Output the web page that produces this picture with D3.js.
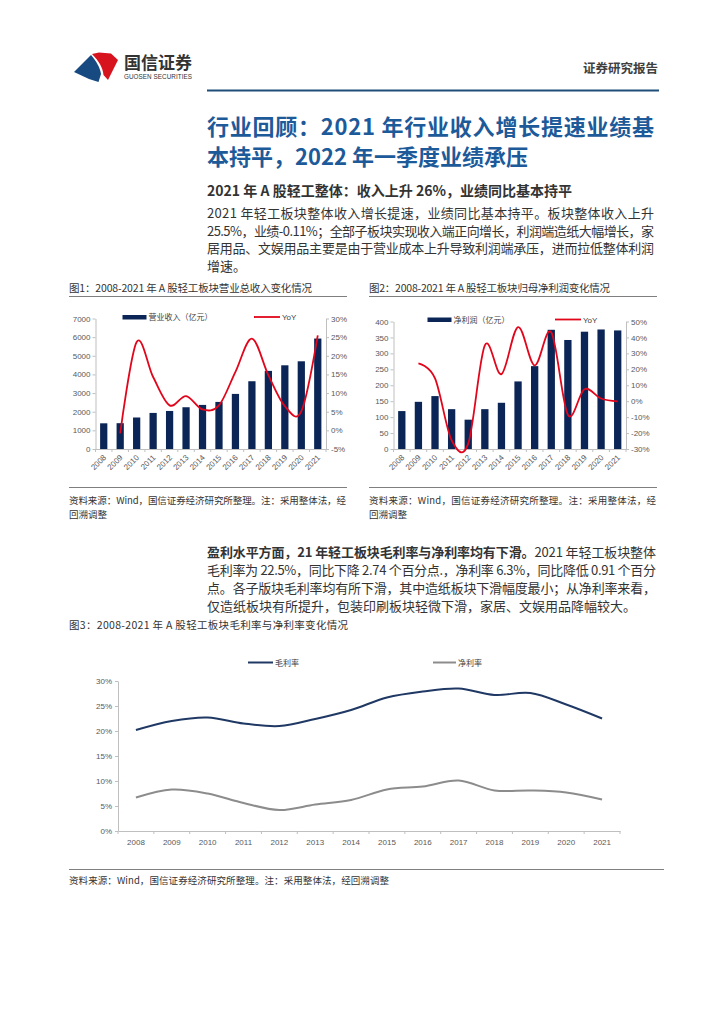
<!DOCTYPE html>
<html><head><meta charset="utf-8">
<script src="https://cdn.jsdelivr.net/npm/d3@7"></script>
<style>body{margin:0;background:#fff}svg{display:block}</style>
</head><body><svg id="c" width="724" height="1024"></svg>
<script>
// ---------------- data ----------------
const years = ["2008","2009","2010","2011","2012","2013","2014","2015","2016","2017","2018","2019","2020","2021"];
const revenue = [1378,1385,1690,1935,2040,2240,2365,2525,2955,3635,4190,4490,4705,5925];
const revenueYoY = [null,-0.8,23.7,14.3,6.7,9.2,5.6,6.7,15.7,24.6,14.8,6.5,5.1,25.5];
const profit = [119,148,166,125,92,125,145,212,260,374,342,368,375,372];
const profitYoY = [null,23.8,14.3,-24.5,-26.6,35.0,17.0,46.5,22.5,43.2,-8.5,7.5,1.7,-0.1];
const grossMargin = [20.2,22.0,22.7,21.5,21.0,22.4,24.2,26.7,27.9,28.5,27.2,27.6,25.3,22.5];
const netMargin = [6.7,8.3,7.5,5.6,4.2,5.3,6.2,8.3,8.9,10.1,8.1,8.1,7.7,6.3];
const revTicks = [0,1000,2000,3000,4000,5000,6000,7000];
const revYoYTicks = [-5,0,5,10,15,20,25,30];
const profTicks = [0,50,100,150,200,250,300,350,400];
const profYoYTicks = [-30,-20,-10,0,10,20,30,40,50];
const marginTicks = [0,5,10,15,20,25,30];

const CJK = "'Noto Sans CJK SC','Noto Sans',sans-serif";
const NUM = "'Liberation Sans','Noto Sans CJK SC',sans-serif";
const NAVY = "#0b2656", RED = "#e1061b";

const svg = d3.select("#c");
svg.append("rect").attr("width",724).attr("height",1024).attr("fill","#fff");

function txt(x,y,s,o={}){
  const t = svg.append("text").attr("x",x).attr("y",y)
    .attr("font-family",o.ff||CJK).attr("font-size",o.fs||12)
    .attr("font-weight",o.fw||"normal").attr("fill",o.fill||"#333")
    .attr("text-anchor",o.anchor||"start");
  if(o.len){t.attr("textLength",o.len).attr("lengthAdjust","spacing");}
  if(o.html){t.html(s);} else t.text(s);
  return t;
}

// ---------------- header ----------------
svg.append("path").attr("d","M74 72 L91 55 C96 61 100 67 101 74 L98.5 82 L89 79 Z").attr("fill","#164a80");
svg.append("path").attr("d","M92 54 L99 52.5 L111 53.5 L118 60 L108 80 L103.5 75 C103 68 99 61 92 54 Z").attr("fill","#d7141e");
txt(124,69,"国信证券",{fs:17,fw:"bold",fill:"#333",len:68});
txt(124,79,"GUOSEN SECURITIES",{fs:6.3,ff:NUM,fill:"#333",len:68});
txt(658,73,"证券研究报告",{fs:12.5,fw:"bold",fill:"#404040",anchor:"end"});
svg.append("line").attr("x1",207).attr("x2",659).attr("y1",90.5).attr("y2",90.5).attr("stroke","#1f4e79").attr("stroke-width",2);

// ---------------- title & paragraph ----------------
txt(207,135,"行业回顾：2021 年行业收入增长提速业绩基",{fs:22,fw:"bold",fill:"#1d5a99",len:447});
txt(207,165,"本持平，2022 年一季度业绩承压",{fs:22,fw:"bold",fill:"#1d5a99",len:321});
txt(207,196,"2021 年 A 股轻工整体：收入上升 26%，业绩同比基本持平",{fs:14,fw:"bold",fill:"#333",len:365});
const p1 = ["2021 年轻工板块整体收入增长提速，业绩同比基本持平。板块整体收入上升",
  "25.5%，业绩-0.11%；全部子板块实现收入端正向增长，利润端造纸大幅增长，家",
  "居用品、文娱用品主要是由于营业成本上升导致利润端承压，进而拉低整体利润",
  "增速。"];
const p1y=[218,235.5,253,270.5];
p1.forEach((s,i)=>txt(207,p1y[i],s,{fs:13,fill:"#333",len:i<3?447:null}));

// ---------------- figure titles / sources ----------------
function figFrame(x0,x1,title,tlen,src){
  txt(x0,292,title,{fs:10.5,fill:"#333",len:tlen});
  svg.append("line").attr("x1",x0).attr("x2",x1).attr("y1",296.5).attr("y2",296.5).attr("stroke","#7f7f7f").attr("stroke-width",1);
  svg.append("line").attr("x1",x0).attr("x2",x1).attr("y1",487.5).attr("y2",487.5).attr("stroke","#7f7f7f").attr("stroke-width",1);
  txt(x0,503.5,src[0],{fs:9.5,fill:"#333",len:x1-x0-1});
  txt(x0,517.5,src[1],{fs:9.5,fill:"#333"});
}
figFrame(69,347,"图1：2008-2021 年 A 股轻工板块营业总收入变化情况",243,["资料来源：Wind，国信证券经济研究所整理。注：采用整体法，经","回溯调整"]);
figFrame(369,657,"图2：2008-2021 年 A 股轻工板块归母净利润变化情况",241,["资料来源：Wind，国信证券经济研究所整理。注：采用整体法，经","回溯调整"]);

// ---------------- combo chart helper ----------------
function combo(cfg){
  const x = d3.scaleBand().domain(years).range([cfg.x0,cfg.x1]).paddingInner(0.56).paddingOuter(0.28);
  const yL = d3.scaleLinear().domain(cfg.ldom).range([449,cfg.top]);
  const yR = d3.scaleLinear().domain(cfg.rdom).range([449,cfg.top]);
  const g = svg.append("g");
  // bars
  g.selectAll(".bar").data(cfg.bars).enter().append("rect")
    .attr("x",(d,i)=>x(years[i])).attr("width",x.bandwidth())
    .attr("y",d=>yL(d)).attr("height",d=>449-yL(d)).attr("fill",NAVY);
  // axes
  const aL = g.append("g").attr("transform",`translate(${cfg.x0},0)`)
    .call(d3.axisLeft(yL).tickValues(cfg.lticks).tickFormat(d3.format("d")).tickSize(3).tickSizeOuter(0).tickPadding(2));
  const aR = g.append("g").attr("transform",`translate(${cfg.x1},0)`)
    .call(d3.axisRight(yR).tickValues(cfg.rticks).tickFormat(d=>d+"%").tickSize(3).tickSizeOuter(0).tickPadding(2));
  const aB = g.append("g").attr("transform","translate(0,449)")
    .call(d3.axisBottom(x).tickSize(0).tickFormat(""));
  // category boundary ticks
  const step = x.step();
  g.selectAll(".bt").data(d3.range(years.length+1)).enter().append("line")
    .attr("x1",i=>cfg.x0+i*step).attr("x2",i=>cfg.x0+i*step).attr("y1",449).attr("y2",452)
    .attr("stroke","#bfbfbf");
  [aL,aR,aB].forEach(a=>{
    a.selectAll("path,line").attr("stroke","#bfbfbf");
    a.selectAll("text").attr("font-family",NUM).attr("font-size",8).attr("fill","#595959");
  });
  // rotated x labels
  years.forEach(yr=>{
    const cx = x(yr)+x.bandwidth()/2;
    g.append("text").attr("transform",`translate(${cx+1},456) rotate(-45)`)
      .attr("text-anchor","end").attr("dy","0.35em")
      .attr("font-family",NUM).attr("font-size",8).attr("fill","#595959").text(yr);
  });
  // line
  const pts = cfg.line.map((v,i)=>[x(years[i])+x.bandwidth()/2, v]).filter(d=>d[1]!==null);
  g.append("path").datum(pts)
    .attr("d",d3.line().x(d=>d[0]).y(d=>yR(d[1])).curve(d3.curveCatmullRom.alpha(0)))
    .attr("fill","none").attr("stroke",RED).attr("stroke-width",1.8);
  // legend
  g.append("rect").attr("x",cfg.lg[0]).attr("y",cfg.lgy-2).attr("width",24).attr("height",4.5).attr("fill",NAVY);
  g.append("text").attr("x",cfg.lg[0]+26).attr("y",cfg.lgy+3).attr("font-family",CJK).attr("font-size",8).attr("fill","#404040").text(cfg.lname);
  g.append("line").attr("x1",cfg.lg[1]).attr("x2",cfg.lg[1]+26).attr("y1",cfg.lgy).attr("y2",cfg.lgy).attr("stroke",RED).attr("stroke-width",1.8);
  g.append("text").attr("x",cfg.lg[1]+28).attr("y",cfg.lgy+3).attr("font-family",NUM).attr("font-size",8).attr("fill","#404040").text("YoY");
}

combo({x0:95.5,x1:326,top:318.5,ldom:[0,7000],rdom:[-5,30],lticks:revTicks,rticks:revYoYTicks,
  bars:revenue,line:revenueYoY,lg:[122.5,254],lgy:317,lname:"营业收入（亿元）"});
combo({x0:393.5,x1:626,top:321.5,ldom:[0,400],rdom:[-30,50],lticks:profTicks,rticks:profYoYTicks,
  bars:profit,line:profitYoY,lg:[427.5,555],lgy:319.5,lname:"净利润（亿元）"});

// ---------------- paragraph 2 ----------------
const p2y=[557,575,593,611];
txt(207,p2y[0],"<tspan font-weight='bold'>盈利水平方面，21 年轻工板块毛利率与净利率均有下滑。</tspan>2021 年轻工板块整体",{fs:13,fill:"#333",len:449,html:true});
txt(207,p2y[1],"毛利率为 22.5%，同比下降 2.74 个百分点.，净利率 6.3%，同比降低 0.91 个百分",{fs:13,fill:"#333",len:449});
txt(207,p2y[2],"点。各子版块毛利率均有所下滑，其中造纸板块下滑幅度最小；从净利率来看，",{fs:13,fill:"#333",len:449});
txt(207,p2y[3],"仅造纸板块有所提升，包装印刷板块轻微下滑，家居、文娱用品降幅较大。",{fs:13,fill:"#333"});

txt(69,629,"图3：2008-2021 年 A 股轻工板块毛利率与净利率变化情况",{fs:10.5,fill:"#333",len:279});

// ---------------- chart 3 ----------------
{
  const x = d3.scaleBand().domain(years).range([118,620]);
  const y = d3.scaleLinear().domain([0,30]).range([831,681]);
  const g = svg.append("g");
  const aL = g.append("g").attr("transform","translate(118,0)")
    .call(d3.axisLeft(y).tickValues(marginTicks).tickFormat(d=>d+"%").tickSize(3).tickSizeOuter(0).tickPadding(3));
  const aB = g.append("g").attr("transform","translate(0,831)")
    .call(d3.axisBottom(x).tickSize(0).tickPadding(8).tickSizeOuter(0));
  g.selectAll(".bt").data(d3.range(years.length+1)).enter().append("line")
    .attr("x1",i=>118+i*x.step()).attr("x2",i=>118+i*x.step()).attr("y1",831).attr("y2",834)
    .attr("stroke","#bfbfbf");
  [aL,aB].forEach(a=>{
    a.selectAll("path,line").attr("stroke","#bfbfbf");
    a.selectAll("text").attr("font-family",NUM).attr("font-size",8).attr("fill","#595959");
  });
  const ln = d3.line().x((d,i)=>x(years[i])+x.bandwidth()/2).y(d=>y(d)).curve(d3.curveCatmullRom.alpha(0));
  g.append("path").datum(grossMargin).attr("d",ln).attr("fill","none").attr("stroke","#1f3864").attr("stroke-width",2);
  g.append("path").datum(netMargin).attr("d",ln).attr("fill","none").attr("stroke","#8c8c8c").attr("stroke-width",2);
  // legend
  g.append("line").attr("x1",248).attr("x2",273).attr("y1",662.5).attr("y2",662.5).attr("stroke","#1f3864").attr("stroke-width",2);
  g.append("text").attr("x",275).attr("y",665.5).attr("font-family",CJK).attr("font-size",8).attr("fill","#404040").text("毛利率");
  g.append("line").attr("x1",433).attr("x2",456).attr("y1",662.5).attr("y2",662.5).attr("stroke","#8c8c8c").attr("stroke-width",2);
  g.append("text").attr("x",458).attr("y",665.5).attr("font-family",CJK).attr("font-size",8).attr("fill","#404040").text("净利率");
}
svg.append("line").attr("x1",69).attr("x2",664).attr("y1",869.5).attr("y2",869.5).attr("stroke","#7f7f7f").attr("stroke-width",1);
txt(69,884,"资料来源：Wind，国信证券经济研究所整理。注：采用整体法，经回溯调整",{fs:9.5,fill:"#333",len:320});
</script></body></html>
